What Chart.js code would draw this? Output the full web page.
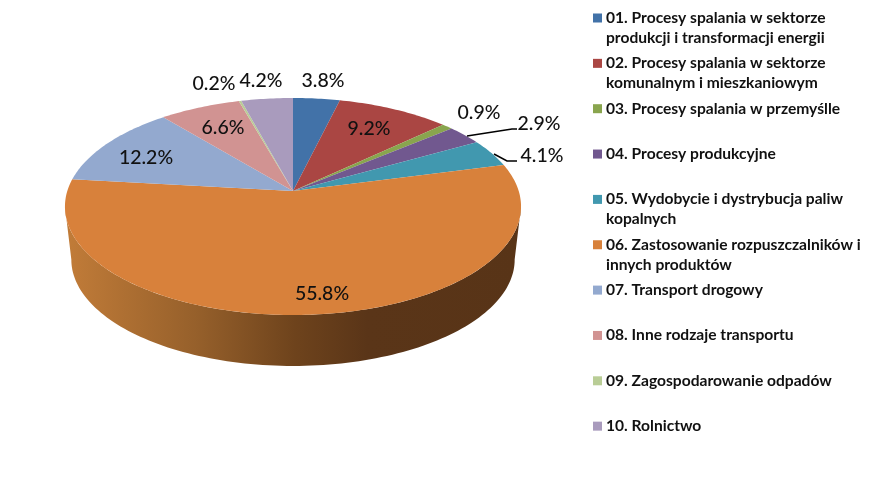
<!DOCTYPE html>
<html>
<head>
<meta charset="utf-8">
<style>
  html, body { margin: 0; padding: 0; background: #fff; }
  canvas { display: block; }
</style>
<script src="https://cdn.jsdelivr.net/npm/chart.js@4"></script>
</head>
<body>
<canvas id="chart" width="882" height="477"></canvas>
<script>
const categories = [
  ["01. Procesy spalania w sektorze", "produkcji i transformacji energii"],
  ["02. Procesy spalania w sektorze", "komunalnym i mieszkaniowym"],
  ["03. Procesy spalania w przemyślle"],
  ["04. Procesy produkcyjne"],
  ["05. Wydobycie i dystrybucja paliw", "kopalnych"],
  ["06. Zastosowanie rozpuszczalników i", "innych produktów"],
  ["07. Transport drogowy"],
  ["08. Inne rodzaje transportu"],
  ["09. Zagospodarowanie odpadów"],
  ["10. Rolnictwo"]
];
const shares = [3.8, 9.2, 0.9, 2.9, 4.1, 55.8, 12.2, 6.6, 0.2, 4.2];
const colors = ["#4272a8", "#aa4643", "#89a54e", "#71588f", "#4198af", "#d8813b", "#93a9cf", "#d19392", "#b9cd96", "#a99bbd"];

// where each percentage sits, and the two leader lines
const labelSpots = [[323, 81], [369, 129], [479, 113], [539, 124], [542, 156], [322, 294], [146, 158], [223, 128], [214, 84], [261, 81]];
const leaders = [[[467, 136], [512, 129], [517, 129]], [[494, 154], [507, 161], [517, 161]]];

// the disc is seen in perspective, so its centre is not the middle of the ellipse
const tilt = 1 / 7;
const topFace = { x: 293, y: 191, cx: 225.7, cy: 106.3 };
const bottomFace = { x: 293, y: 244.4, cx: 219.4, cy: 104.2 };

function project(face, u, v) {
  const w = 1 - tilt * v;
  return [face.x + face.cx * u / w, face.y + face.cy * v / w];
}

// slices keep the angles Chart.js worked out, only the outline is projected
Chart.ArcElement.prototype.draw = function (ctx) {
  const steps = Math.max(2, Math.ceil((this.endAngle - this.startAngle) * 60));
  ctx.save();
  ctx.fillStyle = this.options.backgroundColor;
  ctx.beginPath();
  ctx.moveTo(topFace.x, topFace.y);
  for (let i = 0; i <= steps; i++) {
    const a = this.startAngle + (this.endAngle - this.startAngle) * i / steps;
    const p = project(topFace, Math.cos(a), Math.sin(a));
    ctx.lineTo(p[0], p[1]);
  }
  ctx.closePath();
  ctx.fill();
  ctx.restore();
};

const sideWall = {
  id: "sideWall",
  beforeDatasetsDraw(chart) {
    const ctx = chart.ctx;
    const from = Math.asin(tilt);
    const to = Math.PI - from;
    const grad = ctx.createLinearGradient(70, 0, 520, 0);
    grad.addColorStop(0, "#c07b38");
    grad.addColorStop(0.28, "#96602b");
    grad.addColorStop(0.5, "#6e431c");
    grad.addColorStop(0.66, "#5a3518");
    grad.addColorStop(1, "#583417");
    ctx.save();
    ctx.fillStyle = grad;
    ctx.beginPath();
    for (let i = 0; i <= 120; i++) {
      const a = from + (to - from) * i / 120;
      const p = project(topFace, Math.cos(a), Math.sin(a));
      ctx.lineTo(p[0], p[1]);
    }
    for (let i = 120; i >= 0; i--) {
      const a = from + (to - from) * i / 120;
      const p = project(bottomFace, Math.cos(a), Math.sin(a));
      ctx.lineTo(p[0], p[1]);
    }
    ctx.closePath();
    ctx.fill();
    ctx.restore();
  }
};

const textLayer = {
  id: "textLayer",
  afterDatasetsDraw(chart) {
    const ctx = chart.ctx;
    ctx.save();
    ctx.strokeStyle = "#000";
    ctx.lineWidth = 1.5;
    leaders.forEach(line => {
      ctx.beginPath();
      line.forEach(p => ctx.lineTo(p[0], p[1]));
      ctx.stroke();
    });

    ctx.fillStyle = "#111";
    ctx.font = "500 19.5px Lato";
    ctx.textAlign = "center";
    ctx.textBaseline = "middle";
    shares.forEach((s, i) => {
      ctx.fillText(s.toFixed(1) + "%", labelSpots[i][0], labelSpots[i][1]);
    });

    // legend rows are evenly spaced, two lines tall or not
    ctx.textAlign = "left";
    ctx.font = "bold 15.6px Lato";
    categories.forEach((lines, i) => {
      const y = 18 + i * 45.35;
      ctx.fillStyle = colors[i];
      ctx.fillRect(593, y - 4.5, 9, 9);
      ctx.fillStyle = "#111";
      lines.forEach((t, j) => ctx.fillText(t, 606, y + j * 19.8));
    });
    ctx.restore();
  }
};

new Chart(document.getElementById("chart"), {
  type: "pie",
  data: {
    labels: categories.map(c => c.join(" ")),
    datasets: [{ data: shares, backgroundColor: colors, borderWidth: 0 }]
  },
  options: {
    responsive: false,
    animation: false,
    plugins: { legend: { display: false }, tooltip: { enabled: false } }
  },
  plugins: [sideWall, textLayer]
});
</script>
</body>
</html>
